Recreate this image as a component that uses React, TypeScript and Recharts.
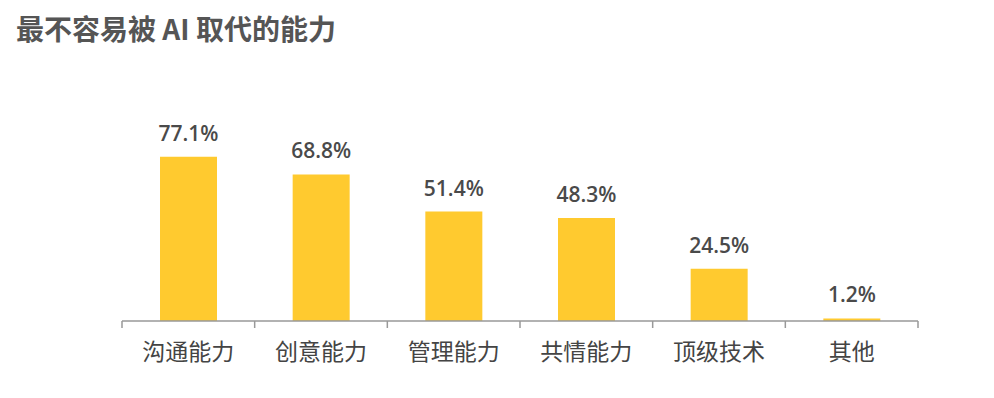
import { BarChart, Bar, XAxis, YAxis, LabelList } from "recharts";

const categories = ["沟通能力", "创意能力", "管理能力", "共情能力", "顶级技术", "其他"];
const shares = [77.1, 68.8, 51.4, 48.3, 24.5, 1.2];

const data = categories.map((name, i) => ({ name, value: shares[i] }));

const BAND = (994 - 122 - 76) / categories.length;

function CategoryTick(props: any) {
  const { x, y, payload, index } = props;
  const half = payload && payload.offset ? payload.offset : BAND / 2;
  const axisY = y - 9;
  return (
    <g>
      <line x1={x - half} y1={axisY} x2={x - half} y2={axisY + 7} stroke="#999" strokeWidth={1.5} />
      {index === categories.length - 1 && (
        <line x1={x + half} y1={axisY} x2={x + half} y2={axisY + 7} stroke="#999" strokeWidth={1.5} />
      )}
      <text
        x={x}
        y={y + 30}
        textAnchor="middle"
        fill="#444"
        fontSize={23}
        fontFamily="'Noto Sans CJK SC', sans-serif"
      >
        {payload.value}
      </text>
    </g>
  );
}

export default function App() {
  return (
    <div style={{ position: "absolute", left: 0, top: 0, width: 994, height: 398, background: "#fff" }}>
      <div
        style={{
          position: "absolute",
          left: 16,
          top: 10,
          fontSize: 28,
          fontWeight: 700,
          color: "#555",
          fontFamily: "'Noto Sans CJK SC', sans-serif",
          lineHeight: "36px",
          whiteSpace: "nowrap",
        }}
      >
        最不容易被 AI 取代的能力
      </div>
      <BarChart
        width={994}
        height={398}
        data={data}
        margin={{ top: 108, right: 76, left: 122, bottom: 27 }}
      >
        <XAxis
          dataKey="name"
          height={50}
          axisLine={{ stroke: "#999", strokeWidth: 1.5 }}
          tickLine={false}
          tickSize={7}
          tickMargin={2}
          tick={<CategoryTick />}
          interval={0}
        />
        <YAxis hide domain={[0, 100]} />
        <Bar dataKey="value" fill="#FFCA2F" barSize={57} isAnimationActive={false}>
          <LabelList
            dataKey="value"
            position="top"
            offset={16}
            formatter={(v: any) => `${v}%`}
            style={{ fill: "#4a4a4a", fontSize: 21, fontWeight: 600, fontFamily: "'Open Sans', sans-serif" }}
          />
        </Bar>
      </BarChart>
    </div>
  );
}
